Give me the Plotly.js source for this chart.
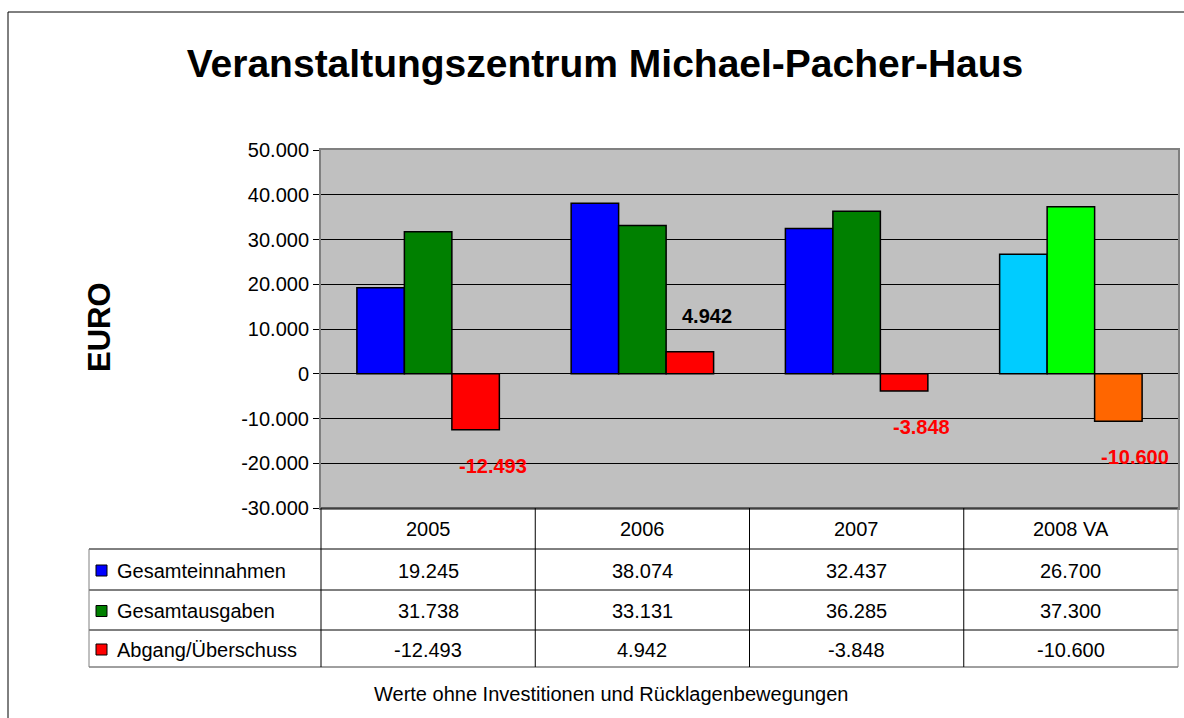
<!DOCTYPE html>
<html><head><meta charset="utf-8">
<script src="https://cdn.plot.ly/plotly-3.0.1.min.js"></script>
<style>html,body{margin:0;padding:0;background:#fff}#chart{width:1184px;height:718px}</style>
</head><body><div id="chart"></div>
<script>
// ---- data ----
const categories = ['2005', '2006', '2007', '2008 VA'];
const seriesNames = ['Gesamteinnahmen', 'Gesamtausgaben', 'Abgang/Überschuss'];
const einnahmen = [19245, 38074, 32437, 26700];
const ausgaben = [31738, 33131, 36285, 37300];
const saldo = [-12493, 4942, -3848, -10600];
const yTickVals = [-30000, -20000, -10000, 0, 10000, 20000, 30000, 40000, 50000];
const titleText = 'Veranstaltungszentrum Michael-Pacher-Haus';
const yTitleText = 'EURO';
const footnoteText = 'Werte ohne Investitionen und Rücklagenbewegungen';

// ---- styles ----
const colEinnahmen = ['#0000FF', '#0000FF', '#0000FF', '#00CCFF'];
const colAusgaben = ['#008000', '#008000', '#008000', '#00FF00'];
const colSaldo = ['#FF0000', '#FF0000', '#FF0000', '#FF6600'];
const legendColors = ['#0000FF', '#008000', '#FF0000'];
const FONT = 'Arial, "Liberation Sans", sans-serif';

function fmt(v) {
  const s = Math.abs(Math.round(v)).toString().replace(/\B(?=(\d{3})+(?!\d))/g, '.');
  return (v < 0 ? '-' : '') + s;
}

// pixel layout
const W = 1184, H = 718;
const PL = 321, PR = 1178, PT = 150, PB = 508;
const pw = PR - PL, ph = PB - PT;
const px = p => (p - PL) / pw;
const py = p => (PB - p) / ph;
const BARGAP = 0.335;

const rowLines = [508, 549, 590, 630, 667];
const tableLeft = 89;

const traces = [einnahmen, ausgaben, saldo].map((vals, i) => ({
  type: 'bar', x: categories, y: vals, name: seriesNames[i],
  marker: { color: [colEinnahmen, colAusgaben, colSaldo][i], line: { color: '#000', width: 1.5 } },
  hoverinfo: 'none'
}));

const shapes = [];
const annotations = [];
const ann = o => annotations.push(Object.assign({ showarrow: false, xanchor: 'center', yanchor: 'middle' }, o));

// outer frame
shapes.push({ type: 'rect', xref: 'paper', yref: 'paper', x0: px(8), x1: px(1200), y0: py(12), y1: py(740),
  line: { color: '#000', width: 1 } });

// table horizontal lines
rowLines.forEach((r, i) => {
  shapes.push({ type: 'line', xref: 'paper', yref: 'paper',
    x0: px(i === 0 ? PL : tableLeft), x1: px(PR), y0: py(r), y1: py(r),
    line: { color: i === rowLines.length - 1 ? '#404040' : '#000', width: 1 }, layer: 'above' });
});
// table vertical lines
for (let c = 0; c <= categories.length; c++) {
  const xp = PL + c * pw / categories.length;
  shapes.push({ type: 'line', xref: 'paper', yref: 'paper', x0: px(xp), x1: px(xp),
    y0: py(rowLines[0]), y1: py(rowLines[rowLines.length - 1]),
    line: { color: c === categories.length ? '#808080' : '#000', width: 1 }, layer: 'above' });
}
shapes.push({ type: 'line', xref: 'paper', yref: 'paper', x0: px(tableLeft), x1: px(tableLeft),
  y0: py(rowLines[1]), y1: py(rowLines[4]), line: { color: '#808080', width: 1 } });

// header row (categories)
categories.forEach((cat, c) => {
  ann({ xref: 'x', yref: 'paper', x: c, y: py((rowLines[0] + rowLines[1]) / 2),
    text: cat, font: { family: FONT, size: 20, color: '#000' } });
});
// data rows
[einnahmen, ausgaben, saldo].forEach((vals, r) => {
  const ym = (rowLines[r + 1] + rowLines[r + 2]) / 2 + 1;
  vals.forEach((v, c) => {
    ann({ xref: 'x', yref: 'paper', x: c, y: py(ym), text: fmt(v),
      font: { family: FONT, size: 20, color: '#000' } });
  });
  ann({ xref: 'paper', yref: 'paper', x: px(115), y: py(ym), xanchor: 'left',
    text: seriesNames[r], font: { family: FONT, size: 20, color: '#000' } });
  shapes.push({ type: 'rect', xref: 'paper', yref: 'paper', x0: px(96), x1: px(107),
    y0: py(ym - 5.5), y1: py(ym + 5.5), fillcolor: legendColors[r], line: { color: '#000', width: 1 } });
});

// data labels for Abgang/Überschuss
const barW = (pw / categories.length) * (1 - BARGAP) / 3;
saldo.forEach((v, c) => {
  ann({ xref: 'x', yref: 'y', x: c, y: v,
    xshift: barW + 17, yshift: v < 0 ? -36 : 36, text: '<b>' + fmt(v) + '</b>',
    font: { family: FONT, size: 20, color: v < 0 ? '#FF0000' : '#000' } });
});

// y-axis title
ann({ xref: 'paper', yref: 'paper', x: px(99), y: py(327), text: '<b>' + yTitleText + '</b>',
  textangle: -90, font: { family: FONT, size: 31, color: '#000' } });
// footnote
ann({ xref: 'paper', yref: 'paper', x: px(611), y: py(694), text: footnoteText,
  font: { family: FONT, size: 20, color: '#000' } });

const layout = {
  width: W, height: H,
  margin: { l: PL, r: W - PR, t: PT, b: H - PB, pad: 0 },
  paper_bgcolor: '#fff', plot_bgcolor: '#C0C0C0',
  separators: ',.',
  showlegend: false, barmode: 'group', bargap: BARGAP, bargroupgap: 0,
  title: { text: '<b>' + titleText + '</b>', x: 605 / W, y: 1 - 63 / H, xref: 'container', yref: 'container',
    xanchor: 'center', yanchor: 'middle', font: { family: FONT, size: 39, color: '#000' } },
  xaxis: { type: 'category', range: [-0.5, categories.length - 0.5], autorange: false,
    showticklabels: false, ticks: '', showgrid: false, zeroline: false,
    showline: true, linecolor: '#808080', linewidth: 2, mirror: true, fixedrange: true },
  yaxis: { range: [-30000, 50000], autorange: false, tickvals: yTickVals, ticktext: yTickVals.map(fmt),
    ticks: 'outside', ticklen: 6, tickcolor: '#000', tickwidth: 1,
    tickfont: { family: FONT, size: 20, color: '#000' },
    showgrid: true, gridcolor: '#000', gridwidth: 1,
    zeroline: true, zerolinecolor: '#000', zerolinewidth: 1,
    showline: true, linecolor: '#808080', linewidth: 2, mirror: true, fixedrange: true },
  shapes: shapes, annotations: annotations, hovermode: false
};

Plotly.newPlot('chart', traces, layout, { staticPlot: true, displayModeBar: false });
</script></body></html>
